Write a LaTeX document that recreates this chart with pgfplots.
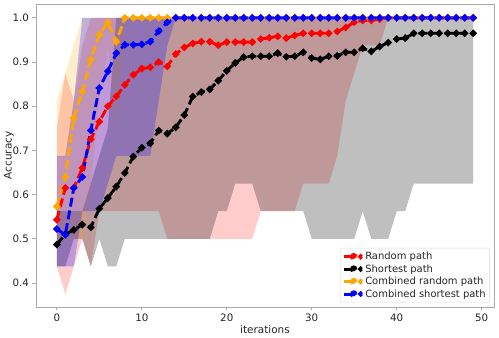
\documentclass[border=0pt]{standalone}
\usepackage{pgfplots}
\pgfplotsset{compat=1.18}
\usepgfplotslibrary{fillbetween}
\usepackage{pgfplotstable}
\usepackage{fontspec}
\setmainfont{DejaVu Sans}

% x  mean  min  max
\pgfplotstableread{
x m lo hi
0 0.543 0.4375 0.75
1 0.615 0.375 0.875
2 0.615 0.4375 0.8125
3 0.66 0.5 0.9375
4 0.725 0.4375 1.0
5 0.765 0.5625 1.0
6 0.80 0.5625 1.0
7 0.822 0.5625 1.0
8 0.848 0.5625 1.0
9 0.871 0.5625 1.0
10 0.885 0.5625 1.0
11 0.888 0.5625 1.0
12 0.90 0.5625 1.0
13 0.89 0.5 1.0
14 0.918 0.5 1.0
15 0.933 0.5 1.0
16 0.942 0.5 1.0
17 0.946 0.5 1.0
18 0.946 0.5 1.0
19 0.938 0.5 1.0
20 0.945 0.5 1.0
21 0.945 0.5 1.0
22 0.945 0.5 1.0
23 0.945 0.5 1.0
24 0.952 0.5625 1.0
25 0.955 0.5625 1.0
26 0.958 0.5625 1.0
27 0.954 0.5625 1.0
28 0.96 0.5625 1.0
29 0.965 0.625 1.0
30 0.965 0.625 1.0
31 0.965 0.625 1.0
32 0.965 0.625 1.0
33 0.969 0.6875 1.0
34 0.978 0.8125 1.0
35 0.99 0.875 1.0
36 0.994 0.9375 1.0
37 0.994 0.9375 1.0
38 0.997 0.9375 1.0
39 1.0 1.0 1.0
40 1.0 1.0 1.0
41 1.0 1.0 1.0
42 1.0 1.0 1.0
43 1.0 1.0 1.0
44 1.0 1.0 1.0
45 1.0 1.0 1.0
46 1.0 1.0 1.0
47 1.0 1.0 1.0
48 1.0 1.0 1.0
49 1.0 1.0 1.0
}\tabrandom

\pgfplotstableread{
x m lo hi
0 0.487 0.4375 0.5625
1 0.51 0.4375 0.5625
2 0.52 0.5 0.5625
3 0.532 0.5 0.5625
4 0.526 0.4375 0.625
5 0.568 0.5 0.6875
6 0.592 0.4375 0.75
7 0.618 0.4375 1.0
8 0.649 0.5 1.0
9 0.686 0.5 1.0
10 0.706 0.5 1.0
11 0.716 0.5 1.0
12 0.745 0.5 1.0
13 0.738 0.5 1.0
14 0.752 0.5 1.0
15 0.78 0.5 1.0
16 0.822 0.5 1.0
17 0.832 0.5 1.0
18 0.838 0.5 1.0
19 0.858 0.5625 1.0
20 0.88 0.5625 1.0
21 0.898 0.625 1.0
22 0.911 0.625 1.0
23 0.913 0.625 1.0
24 0.913 0.5625 1.0
25 0.913 0.5625 1.0
26 0.92 0.5625 1.0
27 0.912 0.5625 1.0
28 0.913 0.5625 1.0
29 0.922 0.5625 1.0
30 0.909 0.5 1.0
31 0.906 0.5 1.0
32 0.913 0.5 1.0
33 0.914 0.5 1.0
34 0.922 0.5 1.0
35 0.922 0.5 1.0
36 0.931 0.5625 1.0
37 0.924 0.5 1.0
38 0.935 0.5 1.0
39 0.944 0.5 1.0
40 0.952 0.5625 1.0
41 0.954 0.5625 1.0
42 0.965 0.625 1.0
43 0.965 0.625 1.0
44 0.965 0.625 1.0
45 0.965 0.625 1.0
46 0.965 0.625 1.0
47 0.965 0.625 1.0
48 0.965 0.625 1.0
49 0.965 0.625 1.0
}\tabshortest

\pgfplotstableread{
x m lo hi
0 0.573 0.5 0.8125
1 0.64 0.5 0.875
2 0.773 0.5 0.9375
3 0.833 0.5 1.0
4 0.905 0.625 1.0
5 0.962 0.8125 1.0
6 0.99 0.9375 1.0
7 0.946 0.75 1.0
8 1.0 1.0 1.0
9 1.0 1.0 1.0
10 1.0 1.0 1.0
11 1.0 1.0 1.0
12 1.0 1.0 1.0
13 1.0 1.0 1.0
14 1.0 1.0 1.0
15 1.0 1.0 1.0
16 1.0 1.0 1.0
17 1.0 1.0 1.0
18 1.0 1.0 1.0
19 1.0 1.0 1.0
20 1.0 1.0 1.0
21 1.0 1.0 1.0
22 1.0 1.0 1.0
23 1.0 1.0 1.0
24 1.0 1.0 1.0
25 1.0 1.0 1.0
26 1.0 1.0 1.0
27 1.0 1.0 1.0
28 1.0 1.0 1.0
29 1.0 1.0 1.0
30 1.0 1.0 1.0
31 1.0 1.0 1.0
32 1.0 1.0 1.0
33 1.0 1.0 1.0
34 1.0 1.0 1.0
35 1.0 1.0 1.0
36 1.0 1.0 1.0
37 1.0 1.0 1.0
38 1.0 1.0 1.0
39 1.0 1.0 1.0
40 1.0 1.0 1.0
41 1.0 1.0 1.0
42 1.0 1.0 1.0
43 1.0 1.0 1.0
44 1.0 1.0 1.0
45 1.0 1.0 1.0
46 1.0 1.0 1.0
47 1.0 1.0 1.0
48 1.0 1.0 1.0
49 1.0 1.0 1.0
}\tabcombrandom

\pgfplotstableread{
x m lo hi
0 0.522 0.4375 0.6875
1 0.509 0.4375 0.6875
2 0.615 0.4375 0.8125
3 0.64 0.5625 1.0
4 0.745 0.5625 1.0
5 0.841 0.5625 1.0
6 0.879 0.625 1.0
7 0.92 0.6875 1.0
8 0.939 0.6875 1.0
9 0.939 0.6875 1.0
10 0.94 0.6875 1.0
11 0.946 0.6875 1.0
12 0.97 0.8125 1.0
13 0.99 0.9375 1.0
14 1.0 1.0 1.0
15 1.0 1.0 1.0
16 1.0 1.0 1.0
17 1.0 1.0 1.0
18 1.0 1.0 1.0
19 1.0 1.0 1.0
20 1.0 1.0 1.0
21 1.0 1.0 1.0
22 1.0 1.0 1.0
23 1.0 1.0 1.0
24 1.0 1.0 1.0
25 1.0 1.0 1.0
26 1.0 1.0 1.0
27 1.0 1.0 1.0
28 1.0 1.0 1.0
29 1.0 1.0 1.0
30 1.0 1.0 1.0
31 1.0 1.0 1.0
32 1.0 1.0 1.0
33 1.0 1.0 1.0
34 1.0 1.0 1.0
35 1.0 1.0 1.0
36 1.0 1.0 1.0
37 1.0 1.0 1.0
38 1.0 1.0 1.0
39 1.0 1.0 1.0
40 1.0 1.0 1.0
41 1.0 1.0 1.0
42 1.0 1.0 1.0
43 1.0 1.0 1.0
44 1.0 1.0 1.0
45 1.0 1.0 1.0
46 1.0 1.0 1.0
47 1.0 1.0 1.0
48 1.0 1.0 1.0
49 1.0 1.0 1.0
}\tabcombshortest

\definecolor{mplorange}{RGB}{255,165,0}
\definecolor{spine}{RGB}{170,170,170}
\definecolor{ticktext}{RGB}{38,38,38}

\pgfplotsset{meanline/.style={line width=2.9bp, dash pattern=on 9bp off 4bp,
  mark=*, mark size=1.9bp, mark options={solid}}}

\begin{document}
\begin{tikzpicture}
\begin{axis}[
  name=ax,
  scale only axis,
  width=458bp, height=303bp,
  xmin=-2.45, xmax=51.45,
  ymin=0.3456, ymax=1.0313,
  xtick={0,10,20,30,40,50},
  ytick={0.4,0.5,0.6,0.7,0.8,0.9,1.0},
  yticklabel style={/pgf/number format/.cd,fixed,fixed zerofill,precision=1},
  /pgf/number format/assume math mode=true,
  tick align=outside,
  tick pos=left,
  major tick length=3.5bp,
  tick style={spine, line width=0.8bp},
  axis line style={spine, line width=0.8bp},
  every tick label/.append style={font=\fontsize{10.3}{12}\selectfont, text=ticktext},
  label style={font=\fontsize{10.5}{12}\selectfont, text=ticktext},
  xlabel={iterations},
  ylabel={Accuracy},
  xlabel style={yshift=3bp},
  ylabel style={yshift=-8bp},
  legend cell align=left,
  legend style={at={(0.991,0.014)}, anchor=south east, draw=black!15,
    rounded corners=2bp, font=\fontsize{10}{12}\selectfont, text=ticktext,
    row sep=-0.6bp, inner sep=2bp},
  legend image code/.code={
    \draw[#1, solid, line width=3bp] (0bp,0bp) -- (9bp,0bp);
    \fill[#1] (10bp,0bp) circle (2.2bp);
    \fill[#1] (17bp,0bp) circle (1.1bp);
  },
]
% bands (min to max)
\addplot[name path=rl, draw=none, forget plot] table[x=x,y=lo] {\tabrandom};
\addplot[name path=ru, draw=none, forget plot] table[x=x,y=hi] {\tabrandom};
\addplot[fill=red, fill opacity=0.2, draw=none, forget plot] fill between[of=rl and ru];

\addplot[name path=sl, draw=none, forget plot] table[x=x,y=lo] {\tabshortest};
\addplot[name path=su, draw=none, forget plot] table[x=x,y=hi] {\tabshortest};
\addplot[fill=black, fill opacity=0.25, draw=none, forget plot] fill between[of=sl and su];

\addplot[name path=ol, draw=none, forget plot] table[x=x,y=lo] {\tabcombrandom};
\addplot[name path=ou, draw=none, forget plot] table[x=x,y=hi] {\tabcombrandom};
\addplot[fill=mplorange, fill opacity=0.2, draw=none, forget plot] fill between[of=ol and ou];

\addplot[name path=bl, draw=none, forget plot] table[x=x,y=lo] {\tabcombshortest};
\addplot[name path=bu, draw=none, forget plot] table[x=x,y=hi] {\tabcombshortest};
\addplot[fill=blue, fill opacity=0.25, draw=none, forget plot] fill between[of=bl and bu];

% mean lines
\addplot[red, meanline] table[x=x,y=m] {\tabrandom};
\addlegendentry{Random path}
\addplot[black, meanline] table[x=x,y=m] {\tabshortest};
\addlegendentry{Shortest path}
\addplot[mplorange, meanline] table[x=x,y=m] {\tabcombrandom};
\addlegendentry{Combined random path}
\addplot[blue, meanline] table[x=x,y=m] {\tabcombshortest};
\addlegendentry{Combined shortest path}
\end{axis}
\pgfresetboundingbox
\path ([xshift=-36bp,yshift=-31bp]ax.south west) rectangle ([xshift=5bp,yshift=4bp]ax.north east);
\end{tikzpicture}
\end{document}
